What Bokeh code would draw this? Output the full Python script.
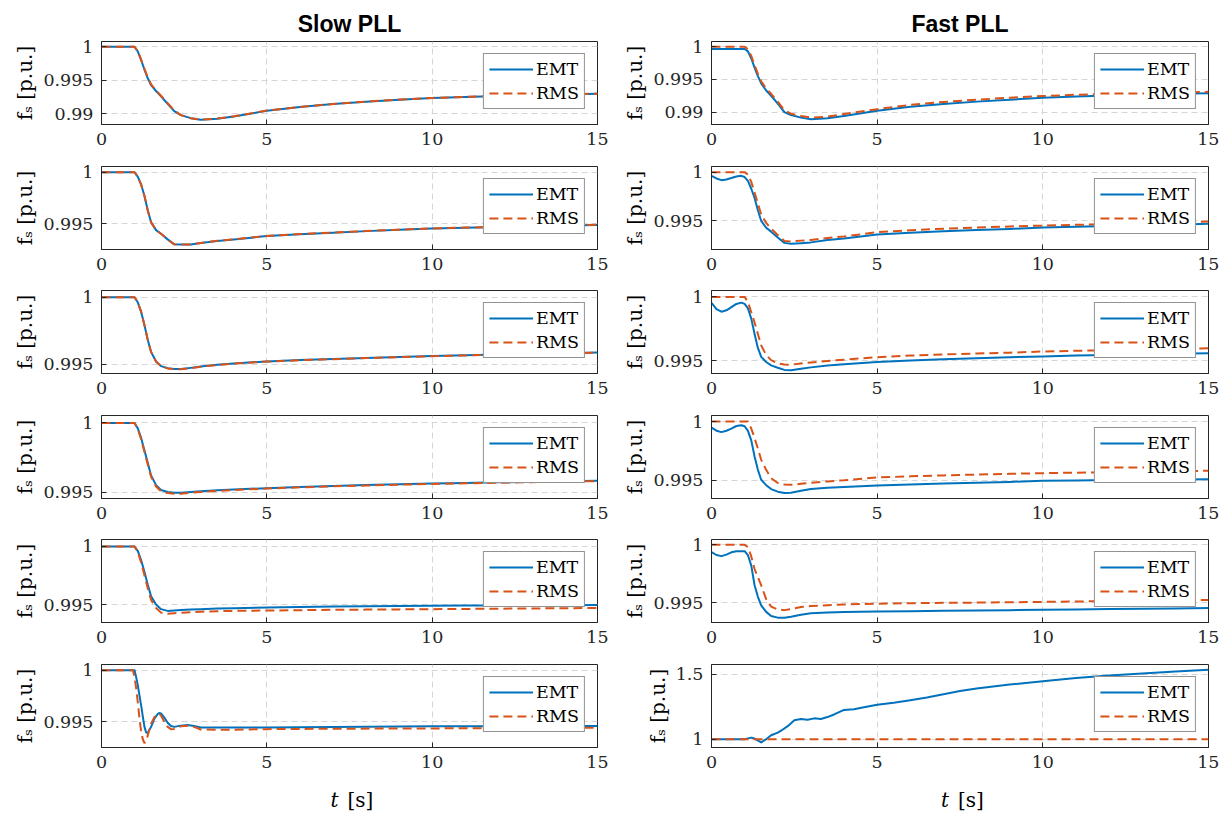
from bokeh.plotting import figure
from bokeh.models import Range1d, FixedTicker, CustomJSTickFormatter
from bokeh.core.properties import value
from bokeh.layouts import column, row
from bokeh.embed import file_html
from bokeh.resources import INLINE

# ---------------- data ----------------
T = [0, 0.3, 0.6, 0.85, 1.0, 1.1, 1.2, 1.3, 1.4, 1.5, 1.65, 1.8, 2.0, 2.2, 2.4,
     2.7, 3.0, 3.5, 4, 5, 6, 7, 8, 9, 10, 11, 12, 13, 14, 15]

slow1_emt = [1, 1, 1, 1, 1, 0.9993, 0.9980, 0.9966, 0.9953, 0.9943, 0.9934, 0.9926, 0.9915, 0.9904, 0.9898,
             0.98935, 0.9891, 0.98925, 0.9896, 0.99045, 0.9910, 0.99145, 0.9918, 0.9921, 0.99235, 0.9925, 0.99265, 0.9928, 0.9929, 0.9930]
slow1_rms = [1, 1, 1, 1, 1, 0.9993, 0.9981, 0.9967, 0.9954, 0.9944, 0.9935, 0.9927, 0.9916, 0.9905, 0.9898,
             0.98935, 0.98912, 0.98928, 0.98962, 0.99048, 0.99102, 0.99147, 0.99182, 0.99212, 0.99237, 0.99252, 0.99267, 0.99281, 0.99291, 0.99301]

slow2_emt = [1, 1, 1, 1, 1, 0.99955, 0.9988, 0.9977, 0.9963, 0.99515, 0.9944, 0.99405, 0.9935, 0.99302, 0.9930,
             0.9930, 0.99315, 0.99335, 0.9935, 0.99382, 0.9940, 0.99415, 0.9943, 0.99443, 0.99455, 0.99463, 0.9947, 0.99478, 0.99485, 0.9949]
slow2_rms = [1, 1, 1, 1, 1, 0.99955, 0.9988, 0.9977, 0.9963, 0.99515, 0.9944, 0.99405, 0.9935, 0.99302, 0.9930,
             0.9930, 0.99316, 0.99336, 0.99351, 0.99383, 0.99401, 0.99416, 0.99431, 0.99444, 0.99456, 0.99464, 0.99471, 0.99479, 0.99486, 0.99491]

slow3_emt = [1, 1, 1, 1, 1, 0.9996, 0.9989, 0.9979, 0.9968, 0.9959, 0.9952, 0.99485, 0.9947, 0.99464, 0.99463,
             0.99472, 0.99482, 0.99495, 0.99505, 0.9952, 0.9953, 0.99538, 0.99546, 0.99553, 0.9956, 0.99566, 0.99572, 0.99577, 0.99582, 0.99587]
slow3_rms = [1, 1, 1, 1, 1, 0.9996, 0.9989, 0.9979, 0.9968, 0.9959, 0.9952, 0.99485, 0.99468, 0.99462, 0.99461,
             0.9947, 0.99481, 0.99494, 0.99504, 0.99519, 0.99529, 0.99537, 0.99545, 0.99552, 0.99559, 0.99565, 0.99571, 0.99576, 0.99581, 0.99586]

slow4_emt = [1, 1, 1, 1, 1, 0.9996, 0.9989, 0.9980, 0.9971, 0.9962, 0.9955, 0.99515, 0.9950, 0.99495, 0.99494,
             0.9950, 0.99505, 0.99512, 0.99518, 0.99528, 0.99537, 0.99544, 0.9955, 0.99556, 0.99561, 0.99566, 0.9957, 0.99574, 0.99578, 0.99582]
slow4_rms = [1, 1, 1, 1, 1, 0.99955, 0.9988, 0.9979, 0.9970, 0.9961, 0.9954, 0.99505, 0.99492, 0.99488, 0.99488,
             0.99495, 0.995, 0.99508, 0.99514, 0.99525, 0.99534, 0.99541, 0.99547, 0.99553, 0.99558, 0.99563, 0.99567, 0.99571, 0.99575, 0.99579]

slow5_emt = [1, 1, 1, 1, 1, 0.9996, 0.9988, 0.9978, 0.9967, 0.9957, 0.9950, 0.9946, 0.99445, 0.99448, 0.99452,
             0.99456, 0.9946, 0.99465, 0.99468, 0.99475, 0.99479, 0.99482, 0.99485, 0.99487, 0.99489, 0.99491, 0.99492, 0.99493, 0.99494, 0.99495]
slow5_rms = [1, 1, 1, 1, 1, 0.9995, 0.9986, 0.9975, 0.9964, 0.9954, 0.9947, 0.9943, 0.9942, 0.99425, 0.99429,
             0.99433, 0.99438, 0.99442, 0.99445, 0.99448, 0.99451, 0.99454, 0.99456, 0.99458, 0.9946, 0.99462, 0.99464, 0.99466, 0.99468, 0.9947]

T6S = [0, 0.5, 0.95, 1.0, 1.05, 1.1, 1.15, 1.2, 1.25, 1.3, 1.35, 1.4, 1.5, 1.6, 1.7, 1.75,
       1.8, 1.9, 2.0, 2.1, 2.2, 2.4, 2.6, 2.8, 3.0, 3.5, 4, 5, 7, 10, 12, 15]
slow6_emt = [1, 1, 1, 1, 0.9993, 0.9985, 0.9975, 0.99656, 0.9955, 0.9945, 0.99395, 0.99392, 0.9945, 0.9953, 0.99575, 0.99584,
             0.9958, 0.9954, 0.9949, 0.99458, 0.9945, 0.99462, 0.99468, 0.99458, 0.99445, 0.99443, 0.99443, 0.99445, 0.9945, 0.99455, 0.99457, 0.99458]
slow6_rms = [1, 1, 1, 0.9993, 0.9982, 0.9968, 0.9953, 0.9940, 0.9933, 0.99292, 0.9931, 0.9937, 0.9948, 0.99545, 0.99573, 0.99575,
             0.9956, 0.9950, 0.9945, 0.99428, 0.9943, 0.99455, 0.99462, 0.9945, 0.99425, 0.99422, 0.99423, 0.99428, 0.99432, 0.99435, 0.99438, 0.99442]

TF = [0, 0.15, 0.3, 0.45, 0.6, 0.75, 0.9, 1.0, 1.1, 1.2, 1.3, 1.4, 1.5, 1.65, 1.8, 2.0, 2.2, 2.4,
      2.7, 3.0, 3.5, 4, 5, 6, 7, 8, 9, 10, 11, 12, 13, 14, 15]

fast1_emt = [0.99965, 0.99965, 0.99965, 0.99965, 0.99965, 0.99965, 0.99965,
             0.99965, 0.9993, 0.9982, 0.9968, 0.9955, 0.9944, 0.9933, 0.9925, 0.9913, 0.9900, 0.98955, 0.98915, 0.9889,
             0.98905, 0.9894, 0.9902, 0.9908, 0.99125, 0.9916, 0.9919, 0.9922, 0.9924, 0.99255, 0.9927, 0.9928, 0.9929]
fast1_rms = [1, 1, 1, 1, 1, 1, 1,
             1, 0.9996, 0.9986, 0.9972, 0.9959, 0.9947, 0.9936, 0.9928, 0.9916, 0.9903, 0.98975, 0.9894, 0.98915,
             0.9893, 0.9897, 0.99045, 0.9911, 0.99155, 0.9919, 0.9922, 0.99245, 0.99265, 0.9928, 0.9929, 0.9930, 0.9931]

fast2_emt = [0.99963, 0.99935, 0.99918, 0.99925, 0.9994, 0.99955, 0.99962,
             0.9995, 0.9991, 0.9983, 0.99735, 0.9961, 0.9950, 0.9943, 0.9939, 0.9933, 0.99275, 0.99265, 0.99272, 0.9928,
             0.99305, 0.9932, 0.9936, 0.99378, 0.99393, 0.99406, 0.99418, 0.99432, 0.9944, 0.99448, 0.99455, 0.99462, 0.9947]
fast2_rms = [1, 1, 1, 1, 1, 1, 1,
             1, 0.99975, 0.9990, 0.9979, 0.9968, 0.99565, 0.9948, 0.9942, 0.99355, 0.99295, 0.9929, 0.99298, 0.99305,
             0.99325, 0.9934, 0.99385, 0.99405, 0.9942, 0.99432, 0.99443, 0.99452, 0.9946, 0.99468, 0.99477, 0.99485, 0.99495]

fast3_emt = [0.99954, 0.99905, 0.99884, 0.99895, 0.9992, 0.99945, 0.99955,
             0.99945, 0.9991, 0.9983, 0.9971, 0.9960, 0.9953, 0.9949, 0.99464, 0.99445, 0.99428, 0.99425, 0.99438, 0.99448,
             0.99462, 0.99472, 0.9949, 0.99502, 0.99511, 0.9952, 0.99527, 0.99534, 0.9954, 0.99545, 0.9955, 0.99555, 0.99559]
fast3_rms = [1, 1, 1, 1, 1, 1, 1,
             1, 0.9996, 0.9988, 0.9980, 0.9971, 0.9962, 0.99545, 0.99505, 0.9948, 0.9947, 0.99469, 0.99478, 0.99486,
             0.99498, 0.99508, 0.99528, 0.9954, 0.99549, 0.99556, 0.99563, 0.99572, 0.99578, 0.99583, 0.99588, 0.99593, 0.99598]

fast4_emt = [0.99949, 0.99922, 0.9991, 0.99922, 0.9994, 0.99962, 0.99968,
             0.9996, 0.9992, 0.9984, 0.99703, 0.9959, 0.99506, 0.9946, 0.99427, 0.99405, 0.99393, 0.99395, 0.99412, 0.99427,
             0.99438, 0.99445, 0.99458, 0.99466, 0.99474, 0.99481, 0.99488, 0.99497, 0.995, 0.99503, 0.99506, 0.99509, 0.99511]
fast4_rms = [1, 1, 1, 1, 1, 1, 1,
             1, 1, 0.9994, 0.9986, 0.9977, 0.99675, 0.9959, 0.9952, 0.99478, 0.99465, 0.99463, 0.99472, 0.9948,
             0.99492, 0.99502, 0.99525, 0.99535, 0.99543, 0.9955, 0.99556, 0.99562, 0.99566, 0.9957, 0.99575, 0.99578, 0.99582]

fast5_emt = [0.99937, 0.99912, 0.99902, 0.99915, 0.99935, 0.99944, 0.99945,
             0.99945, 0.9991, 0.9982, 0.9965, 0.9955, 0.99477, 0.9942, 0.99385, 0.9937, 0.9937, 0.99378, 0.99395, 0.99408,
             0.99415, 0.99418, 0.99423, 0.99426, 0.99429, 0.99432, 0.99435, 0.99438, 0.99441, 0.99444, 0.99447, 0.9945, 0.99453]
fast5_rms = [1, 1, 1, 1, 1, 1, 1,
             1, 0.9998, 0.9990, 0.9979, 0.9972, 0.9965, 0.9953, 0.99465, 0.9944, 0.99435, 0.99445, 0.99462, 0.9947,
             0.99478, 0.99484, 0.99491, 0.99495, 0.99498, 0.995, 0.99503, 0.99506, 0.9951, 0.99513, 0.99517, 0.9952, 0.99523]

T6F = [0, 1.0, 1.2, 1.3, 1.5, 1.65, 1.8, 2.0, 2.1, 2.3, 2.5, 2.7, 2.9, 3.1, 3.3, 3.5, 3.7,
       4.0, 4.3, 4.6, 5, 5.5, 6, 6.5, 7, 7.5, 8, 9, 10, 11, 12, 13, 14, 15]
fast6_emt = [1.0, 1.0, 1.012, 1.005, 0.975, 1.0, 1.03, 1.05, 1.065, 1.10, 1.145, 1.155, 1.15, 1.16, 1.155, 1.17, 1.19,
             1.225, 1.23, 1.245, 1.265, 1.28, 1.30, 1.32, 1.345, 1.37, 1.39, 1.42, 1.445, 1.47, 1.49, 1.505, 1.52, 1.533]
T6F_RMS = [0, 15]
fast6_rms = [1.0, 1.0]

y_ranges = {
    "slow": [(0.9884, 1.0008), (0.99252, 1.00056), (0.9943, 1.0005), (0.99453, 1.00054), (0.99345, 1.0006), (0.9925, 1.00055)],
    "fast": [(0.9881, 1.0008), (0.99207, 1.00058), (0.9940, 1.0005), (0.99347, 1.00051), (0.99328, 1.00046), (0.936, 1.574)],
}
y_ticks_std = [0.995, 1.0]
y_ticks_row1 = [0.99, 0.995, 1.0]
y_ticks_big = [1.0, 1.5]
x_ticks = [0, 5, 10, 15]
col_titles = ["Slow PLL", "Fast PLL"]
legend_labels = ["EMT", "RMS"]
y_label = "f\u209b [p.u.]"
x_label_var = "t"
x_label_unit = "[s]"

# ---------------- styling ----------------
EMT_COLOR = "#0072BD"
RMS_COLOR = "#D95319"
AX_COLOR = "#262626"
GRID_COLOR = "#d6d6d6"
SERIF = "DejaVu Serif"
TICK_FS = "17.5px"

fmt = CustomJSTickFormatter(code="return String(Math.round(tick*1e6)/1e6);")

FRAME_H = 83
FRAME_W = [496, 497]
BORDER_L = [101, 100]
BORDER_R = [14, 11]
TOPS = [41, 8, 8, 8, 8, 8]
BOTTOMS = [34, 33, 34, 33, 34, 34]
XLAB_H = 32

series = {
    "slow": [(T, slow1_emt, T, slow1_rms), (T, slow2_emt, T, slow2_rms), (T, slow3_emt, T, slow3_rms),
             (T, slow4_emt, T, slow4_rms), (T, slow5_emt, T, slow5_rms), (T6S, slow6_emt, T6S, slow6_rms)],
    "fast": [(TF, fast1_emt, TF, fast1_rms), (TF, fast2_emt, TF, fast2_rms), (TF, fast3_emt, TF, fast3_rms),
             (TF, fast4_emt, TF, fast4_rms), (TF, fast5_emt, TF, fast5_rms), (T6F, fast6_emt, T6F_RMS, fast6_rms)],
}


def style_axis(ax, ticks):
    ax.ticker = FixedTicker(ticks=ticks)
    ax.formatter = fmt
    ax.major_tick_in = 5
    ax.major_tick_out = 0
    ax.minor_tick_line_color = None
    ax.axis_line_color = AX_COLOR
    ax.major_tick_line_color = AX_COLOR
    ax.major_label_text_font = SERIF
    ax.major_label_text_color = AX_COLOR
    ax.major_label_text_font_size = TICK_FS
    ax.major_label_standoff = 8


def xlabel_strip(ci):
    w = BORDER_L[ci] + FRAME_W[ci] + BORDER_R[ci]
    s = figure(frame_width=w, frame_height=XLAB_H, x_range=Range1d(0, w), y_range=Range1d(0, XLAB_H),
               output_backend="svg", toolbar_location=None,
               min_border_left=0, min_border_right=0, min_border_top=0, min_border_bottom=0,
               x_axis_type=None, y_axis_type=None,
               background_fill_color="white", border_fill_color="white")
    s.outline_line_color = None
    s.grid.visible = False
    cx = BORDER_L[ci] + FRAME_W[ci] / 2
    s.text(x=[cx - 19], y=[14], text=[x_label_var], text_font=value(SERIF), text_font_style="italic",
           text_font_size="20px", text_align="left", text_baseline="alphabetic", text_color="black")
    s.text(x=[cx - 2], y=[14], text=[x_label_unit], text_font=value(SERIF),
           text_font_size="20px", text_align="left", text_baseline="alphabetic", text_color="black")
    return s


def make_panel(ci, ri):
    key = "slow" if ci == 0 else "fast"
    te, ye, tr, yr = series[key][ri]
    lo, hi = y_ranges[key][ri]
    if ri == 0:
        yt = y_ticks_row1
    elif ci == 1 and ri == 5:
        yt = y_ticks_big
    else:
        yt = y_ticks_std
    p = figure(frame_width=FRAME_W[ci], frame_height=FRAME_H,
               x_range=Range1d(0, 15), y_range=Range1d(lo, hi),
               output_backend="svg", toolbar_location=None,
               min_border_left=BORDER_L[ci], min_border_right=BORDER_R[ci],
               min_border_top=TOPS[ri], min_border_bottom=BOTTOMS[ri],
               background_fill_color="white", border_fill_color="white")
    p.outline_line_color = AX_COLOR
    p.outline_line_width = 1
    style_axis(p.xaxis[0], x_ticks)
    style_axis(p.yaxis[0], yt)
    ya = p.yaxis[0]
    ya.axis_label = y_label
    ya.axis_label_text_font = SERIF
    ya.axis_label_text_font_style = "normal"
    ya.axis_label_text_font_size = "20px"
    ya.axis_label_text_color = "black"
    ya.axis_label_standoff = 3

    for g in p.grid:
        g.grid_line_color = GRID_COLOR
        g.grid_line_dash = "6 4"
        g.grid_line_width = 1
    p.xgrid[0].ticker = FixedTicker(ticks=x_ticks)
    p.ygrid[0].ticker = FixedTicker(ticks=yt)

    p.line(te, ye, line_color=EMT_COLOR, line_width=2, line_join="round", legend_label=legend_labels[0])
    p.line(tr, yr, line_color=RMS_COLOR, line_width=2, line_dash="9 5", legend_label=legend_labels[1])

    lg = p.legend[0]
    lg.location = "top_right"
    lg.margin = 12
    lg.padding = 5
    lg.spacing = 4
    lg.label_height = 20
    lg.glyph_height = 20
    lg.glyph_width = 44
    lg.label_standoff = 3
    lg.label_text_font = SERIF
    lg.label_text_font_size = TICK_FS
    lg.label_text_color = "black"
    lg.border_line_color = AX_COLOR
    lg.border_line_width = 1
    lg.background_fill_alpha = 1.0

    if ri == 0:
        p.title.text = col_titles[ci]
        p.title.align = "center"
        p.title.text_font = "Liberation Sans"
        p.title.text_font_style = "bold"
        p.title.text_font_size = "23px"
        p.title.text_color = "black"
        p.title.standoff = 10
    return p


rows = []
for ri in range(6):
    rows.append(row(make_panel(0, ri), make_panel(1, ri)))
rows.append(row(xlabel_strip(0), xlabel_strip(1)))

layout = column(*rows)
open("out.html", "w").write(file_html(layout, INLINE))
